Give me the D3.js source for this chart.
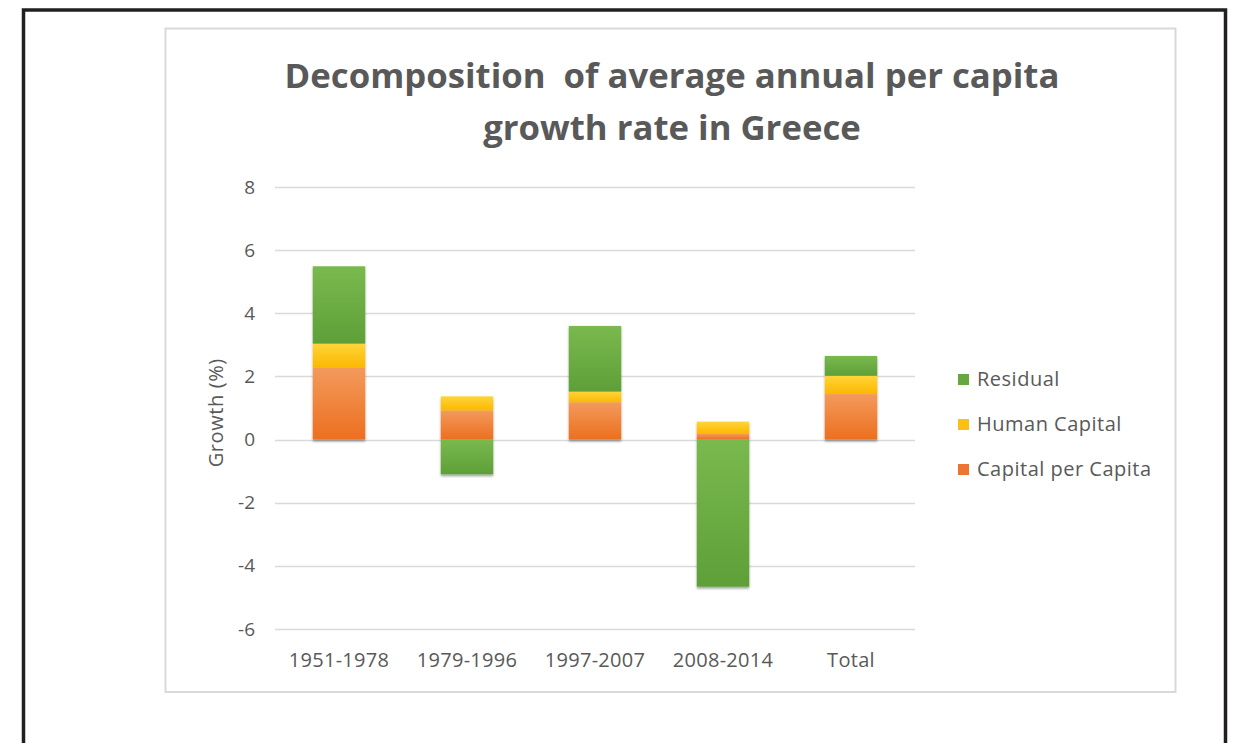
<!DOCTYPE html>
<html>
<head>
<meta charset="utf-8">
<script src="https://cdn.jsdelivr.net/npm/d3@7"></script>
<style>
  html, body { margin: 0; padding: 0; background: #fff; }
  svg { display: block; }
  text { font-family: "Open Sans", "Noto Sans", sans-serif; fill: #595959; }
</style>
</head>
<body>
<svg id="chart" width="1235" height="743"></svg>
<script>
// Decomposition of per capita growth, percentage points per year
const periods = ["1951-1978", "1979-1996", "1997-2007", "2008-2014", "Total"];
const capitalPerCapita = [2.28, 0.92, 1.18, 0.18, 1.44];
const humanCapital = [0.76, 0.45, 0.34, 0.39, 0.58];
const residual = [2.45, -1.10, 2.08, -4.66, 0.63];
const seriesNames = ["Capital per Capita", "Human Capital", "Residual"];
const yTicks = [-6, -4, -2, 0, 2, 4, 6, 8];
const titleLines = ["Decomposition  of average annual per capita", "growth rate in Greece"];

const rows = periods.map((p, i) => ({
  period: p,
  "Capital per Capita": capitalPerCapita[i],
  "Human Capital": humanCapital[i],
  "Residual": residual[i]
}));

const palette = {
  "Capital per Capita": ["#f39a5c", "#ec6f1f"],
  "Human Capital": ["#ffd43a", "#fbb800"],
  "Residual": ["#7ab94e", "#5e9f38"]
};
const legendColor = {
  "Capital per Capita": "#ed7431",
  "Human Capital": "#fcc010",
  "Residual": "#66a83f"
};

const svg = d3.select("#chart");
const defs = svg.append("defs");

Object.entries(palette).forEach(([name, [top, bottom]], k) => {
  const g = defs.append("linearGradient")
    .attr("id", "grad" + k)
    .attr("x1", 0).attr("y1", 0).attr("x2", 0).attr("y2", 1);
  g.append("stop").attr("offset", "0%").attr("stop-color", top);
  g.append("stop").attr("offset", "100%").attr("stop-color", bottom);
});

const shadow = defs.append("filter").attr("id", "barShadow")
  .attr("x", "-10%").attr("y", "-10%").attr("width", "120%").attr("height", "120%");
shadow.append("feDropShadow")
  .attr("dx", 0).attr("dy", 2).attr("stdDeviation", 1.2)
  .attr("flood-color", "#000").attr("flood-opacity", 0.35);

// Outer page frame (open at the bottom)
svg.append("path")
  .attr("d", "M23.5,743 L23.5,10 L1225.5,10 L1225.5,743")
  .attr("fill", "none").attr("stroke", "#231f20").attr("stroke-width", 3.5);

// Chart area border
svg.append("rect")
  .attr("x", 165.5).attr("y", 28.5).attr("width", 1010).attr("height", 663.5)
  .attr("fill", "#fff").attr("stroke", "#d9d9d9").attr("stroke-width", 2);

// Title
const titleFontSize = 32;
const title = svg.append("text")
  .attr("text-anchor", "middle")
  .style("font-weight", "bold")
  .style("white-space", "pre")
  .attr("xml:space", "preserve")
  .style("font-size", titleFontSize + "px");
title.selectAll("tspan").data(titleLines).join("tspan")
  .attr("x", 672)
  .attr("y", (d, i) => 88 + i * 52)
  .text(d => d);

// Fit the first title line to its intended width
const w0 = title.select("tspan").node().getComputedTextLength();
title.style("font-size", (titleFontSize * 775 / w0) + "px");

const plot = { left: 275, right: 915, top: 187, bottom: 629 };

const x = d3.scaleBand()
  .domain(periods)
  .range([plot.left, plot.right])
  .paddingInner(0.59)
  .paddingOuter(0.295);

const y = d3.scaleLinear()
  .domain([-6, 8])
  .range([plot.bottom, plot.top]);

// Gridlines
svg.append("g")
  .selectAll("line").data(yTicks).join("line")
  .attr("x1", plot.left).attr("x2", plot.right)
  .attr("y1", d => Math.round(y(d)) + 0.5).attr("y2", d => Math.round(y(d)) + 0.5)
  .attr("stroke", "#d9d9d9").attr("stroke-width", 1.3);

// Y axis labels
const yAxis = svg.append("g")
  .attr("transform", `translate(${plot.left - 20},0)`)
  .call(d3.axisLeft(y).tickValues(yTicks).tickSize(0).tickPadding(0).tickFormat(d => String(d)));
yAxis.select(".domain").remove();
yAxis.selectAll("text")
  .style("font-size", "19px").style("font-family", "'Open Sans', sans-serif")
  .attr("fill", "#595959");

// X axis labels
const xAxis = svg.append("g")
  .attr("transform", `translate(0,${plot.bottom + 24})`)
  .call(d3.axisBottom(x).tickSize(0).tickPadding(0));
xAxis.select(".domain").remove();
xAxis.selectAll("text")
  .style("font-size", "20px").style("font-family", "'Open Sans', sans-serif")
  .style("letter-spacing", "0.3px")
  .attr("fill", "#595959");

// Axis title
svg.append("text")
  .attr("transform", `translate(223,${y(0.85)}) rotate(-90)`)
  .attr("text-anchor", "middle")
  .style("font-size", "20px")
  .style("letter-spacing", "0.6px")
  .text("Growth (%)");

// Stacked bars, negatives stacked below zero
const stacked = d3.stack()
  .keys(seriesNames)
  .offset(d3.stackOffsetDiverging)(rows);

const barsG = svg.append("g").attr("filter", "url(#barShadow)");
stacked.forEach((layer, k) => {
  barsG.append("g")
    .selectAll("rect").data(layer).join("rect")
    .attr("x", d => x(d.data.period))
    .attr("width", x.bandwidth())
    .attr("y", d => y(Math.max(d[0], d[1])))
    .attr("height", d => Math.abs(y(d[0]) - y(d[1])))
    .attr("fill", `url(#grad${k})`);
});

// Legend, Residual listed first
const legendItems = seriesNames.slice().reverse();
const legend = svg.append("g").attr("transform", "translate(958,379)");
const li = legend.selectAll("g").data(legendItems).join("g")
  .attr("transform", (d, i) => `translate(0,${i * 45})`);
li.append("rect")
  .attr("x", 0).attr("y", -5).attr("width", 11).attr("height", 11)
  .attr("fill", d => legendColor[d]);
li.append("text")
  .attr("x", 19).attr("y", 0).attr("dy", "0.33em")
  .style("font-size", "20px")
  .style("letter-spacing", "0.5px")
  .text(d => d);
</script>
</body>
</html>
